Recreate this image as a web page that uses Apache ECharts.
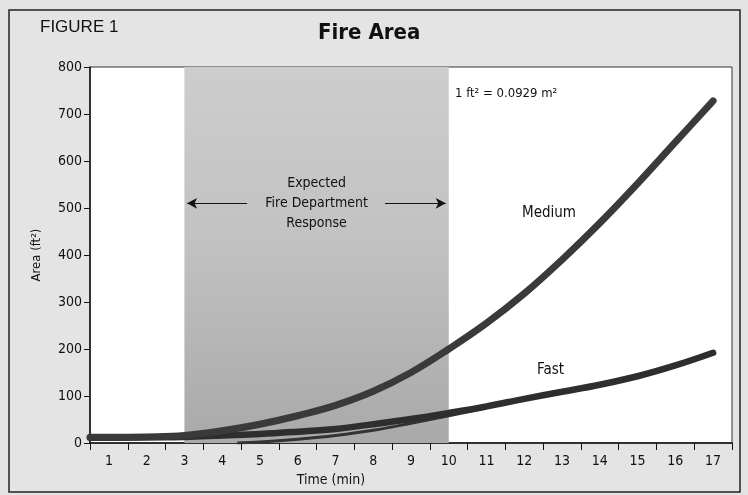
<!DOCTYPE html>
<html>
<head>
<meta charset="utf-8">
<script src="https://cdn.jsdelivr.net/npm/echarts@6/dist/echarts.min.js"></script>
<style>
html,body{margin:0;padding:0;background:#e4e4e4;}
#chart{width:748px;height:495px;}
</style>
</head>
<body>
<div id="chart"></div>
<script>
var timeLabels = ['1','2','3','4','5','6','7','8','9','10','11','12','13','14','15','16','17'];
var yTicks = [0,100,200,300,400,500,600,700,800];
var mediumT = [0.5,1,2,3,4,5,6,7,8,9,10,11,12,13,14,15,16,17];
var mediumV = [12,12,13,16,26,40,58,80,110,150,200,255,318,390,468,552,640,728];
var fastT = [0.5,1,2,3,4,5,6,7,8,9,10,11,12,13,14,15,16,17];
var fastV = [11,11,12,13,16,19,24,30,40,51,64,78,94,109,124,142,165,192];
var fastLowT = [4.4,5,6,7,8,9,10,11];
var fastLowV = [0,2,8,16,27,42,58,74];
var responseStart = 3, responseEnd = 10;

var FONT = "'DejaVu Sans Condensed','Liberation Sans Narrow','Liberation Sans',sans-serif";
function pairs(t, v){ return t.map(function(x,i){ return [x, v[i]]; }); }

var chart = echarts.init(document.getElementById('chart'));
chart.setOption({
  backgroundColor: '#e4e4e4',
  animation: false,
  grid: {left: 90, right: 16, top: 67, bottom: 52, show: true, backgroundColor: '#ffffff', borderColor: '#333', borderWidth: 1},
  xAxis: [{
    type: 'category', data: timeLabels, boundaryGap: true,
    axisLine: {lineStyle: {color: '#111', width: 1.5}},
    axisTick: {show: true, interval: 0, length: 7, lineStyle: {color: '#111'}},
    axisLabel: {interval: 0, fontSize: 14, color: '#111', fontFamily: FONT, margin: 11},
    name: 'Time (min)', nameLocation: 'middle', nameGap: 27,
    nameTextStyle: {fontSize: 14, color: '#111', fontFamily: FONT, padding: [0, 0, 0, -160]}
  }, {
    type: 'value', min: 0.5, max: 17.5, show: false
  }],
  yAxis: {
    type: 'value', min: 0, max: 800, interval: 100,
    axisLine: {show: true, lineStyle: {color: '#111', width: 1.5}},
    axisTick: {show: true, length: 6, lineStyle: {color: '#111'}},
    splitLine: {show: false},
    axisLabel: {fontSize: 14, color: '#111', fontFamily: FONT, margin: 8,
      formatter: function(v){ return yTicks.indexOf(v) >= 0 ? String(v) : ''; }},
    name: 'Area (ft\u00B2)', nameLocation: 'middle', nameGap: 47, nameRotate: 90,
    nameTextStyle: {fontSize: 13, color: '#111', fontFamily: FONT}
  },
  series: [{
    name: 'Medium', type: 'line', xAxisIndex: 1, smooth: 0.4, showSymbol: false,
    data: pairs(mediumT, mediumV),
    lineStyle: {color: '#3a3a3a', width: 7, cap: 'round'},
    z: 5,
    markArea: {
      silent: true,
      itemStyle: {color: {type: 'linear', x: 0, y: 0, x2: 0, y2: 1, colorStops: [
        {offset: 0, color: '#cdcdcd'}, {offset: 0.45, color: '#c2c2c2'}, {offset: 1, color: '#a9a9a9'}]}},
      label: {show: true, position: 'insideTop', distance: 106, color: '#111', fontSize: 14, fontFamily: FONT,
        lineHeight: 20, align: 'center', formatter: 'Expected\nFire Department\nResponse'},
      data: [[{xAxis: responseStart, yAxis: 800}, {xAxis: responseEnd, yAxis: 0}]]
    },
    markLine: {
      silent: true, symbol: ['none', 'arrow'], symbolSize: [8, 10],
      lineStyle: {color: '#111', width: 1, type: 'solid'}, label: {show: false},
      data: [
        [{coord: [4.66, 510]}, {coord: [3.07, 510]}],
        [{coord: [8.31, 510]}, {coord: [9.92, 510]}]
      ]
    }
  }, {
    name: 'Fast', type: 'line', xAxisIndex: 1, smooth: 0.4, showSymbol: false,
    data: pairs(fastT, fastV),
    lineStyle: {color: '#2e2e2e', width: 6.5, cap: 'round'}, z: 4
  }, {
    name: 'Fast lower', type: 'line', xAxisIndex: 1, smooth: 0.4, showSymbol: false,
    data: pairs(fastLowT, fastLowV),
    lineStyle: {color: '#333', width: 3}, z: 3
  }],
  graphic: [
    {type: 'rect', shape: {x: 9, y: 10, width: 731, height: 482}, style: {fill: 'none', stroke: '#222', lineWidth: 1.5}, silent: true},
    {type: 'text', left: 40, top: 19, style: {text: 'FIGURE 1', font: "17px 'Liberation Sans',sans-serif", fill: '#111'}},
    {type: 'text', left: 318, top: 22, style: {text: 'Fire Area', font: "bold 22px " + FONT, fill: '#111'}},
    {type: 'text', left: 455, top: 87, style: {text: '1 ft\u00B2 = 0.0929 m\u00B2', font: "13px " + FONT, fill: '#111'}},
    {type: 'text', left: 522, top: 206, style: {text: 'Medium', font: "15px " + FONT, fill: '#111'}},
    {type: 'text', left: 537, top: 363, style: {text: 'Fast', font: "15px " + FONT, fill: '#111'}}
  ]
});
</script>
</body>
</html>
